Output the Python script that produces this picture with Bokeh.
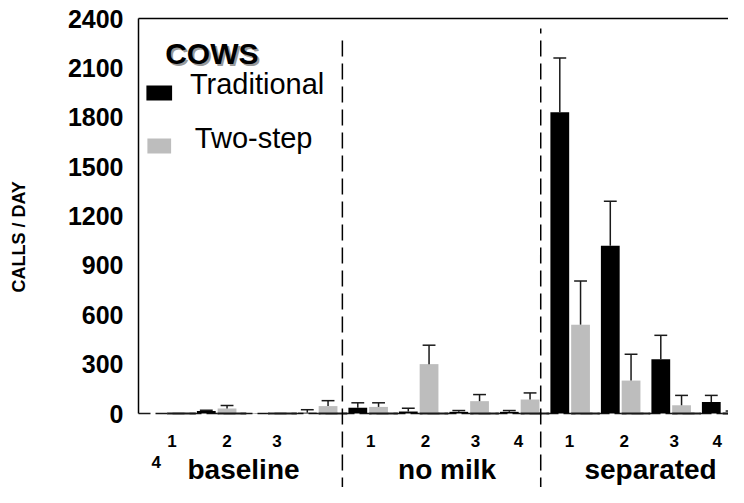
import numpy as np
from bokeh.plotting import figure
from bokeh.layouts import row
from bokeh.models import Range1d, FixedTicker
from bokeh.core.properties import value
from bokeh.embed import file_html
from bokeh.resources import INLINE

# ---------------- data ----------------
groups = ["baseline", "no milk", "separated"]
days = ["1", "2", "3", "4"]
traditional     = [0, 15, 2, 5,    35, 12, 10, 10,   1830, 1020, 330, 70]
traditional_err = [0, 5, 0, 18,    30, 20, 8, 8,     330, 270, 145, 40]
two_step        = [4, 30, 2, 45,   40, 300, 75, 85,  540, 200, 50, 5]
two_step_err    = [0, 18, 0, 33,   25, 115, 40, 40,  265, 160, 60, 10]
y_ticks = [0, 300, 600, 900, 1200, 1500, 1800, 2100, 2400]
series_names = ["Traditional", "Two-step"]
legend_title = "COWS"
y_title = "CALLS / DAY"

# ---------------- layout helpers ----------------
REF_PXC = 51.1        # reference pixels per category
PXC = 50.5            # pixels per category used here
K = 395 / 2400        # pixels per value unit
def px(xp):           # reference x pixel -> category units
    return (xp - 138) / REF_PXC
def py(yp):           # pixel y -> value units
    return (413 - yp) / K

FONT = value("Liberation Sans")
DARK = "#1a1a1a"
GRAY = "#bdbdbd"

TOTAL_W, H = 728, 487
TW = 40               # width of the y-title strip

# ---- y title strip ----
pt = figure(width=TW, height=H, output_backend="svg", toolbar_location=None, title=None,
            x_axis_location=None, y_axis_location=None,
            min_border_left=0, min_border_right=0, min_border_top=0, min_border_bottom=0,
            x_range=Range1d(0, TW), y_range=Range1d(0, H))
pt.outline_line_color = None
pt.xgrid.visible = False
pt.ygrid.visible = False
pt.text(x=[18], y=[H - 230], text=[y_title], angle=np.pi / 2, text_font=FONT,
        text_font_style="bold", text_font_size="18px", text_align="center",
        text_baseline="middle", text_color="black")

# ---- main chart ----
FRAME_L = 128
p = figure(width=TOTAL_W - TW, height=H, output_backend="svg", toolbar_location=None,
           title=None, x_axis_location=None, y_axis_location="left",
           min_border_left=FRAME_L - TW, min_border_right=0, min_border_top=12, min_border_bottom=0,
           x_range=Range1d(-10 / PXC, (TOTAL_W - 138) / PXC),
           y_range=Range1d(py(H), py(12)))
p.outline_line_color = None
p.xgrid.visible = False
p.ygrid.visible = False

ya = p.yaxis[0]
ya.ticker = FixedTicker(ticks=y_ticks)
ya.axis_line_color = None
ya.major_tick_line_color = None
ya.minor_tick_line_color = None
ya.major_tick_out = 0
ya.major_tick_in = 0
ya.major_label_standoff = 5
ya.major_label_text_font = "Liberation Sans"
ya.major_label_text_font_style = "bold"
ya.major_label_text_font_size = "25px"
ya.major_label_text_color = "black"

n = len(traditional)
idx = np.arange(n)
bw = 19 / REF_PXC
black_x = idx + 8 / REF_PXC + bw / 2
gray_x = idx + 29 / REF_PXC + bw / 2
x_end = (TOTAL_W - 138) / PXC

# dashed zero axis
p.segment(x0=[0], y0=[0], x1=[x_end], y1=[0], line_color=DARK, line_width=1.5, line_dash="12 5")

# frame lines: left axis and top border
p.segment(x0=[0, 0], y0=[0, y_ticks[-1]], x1=[0, x_end], y1=[y_ticks[-1], y_ticks[-1]],
          line_color="black", line_width=1.5)

# bars
p.vbar(x=black_x, top=traditional, bottom=0, width=bw, fill_color="black", line_color=None)
p.vbar(x=gray_x, top=two_step, bottom=0, width=bw, fill_color=GRAY, line_color=None)
p.segment(x0=gray_x - bw / 2, y0=[0] * n, x1=gray_x + bw / 2 + 10 / REF_PXC, y1=[0] * n,
          line_color=DARK, line_width=2)

# error bars (upward only)
cap = 13 / REF_PXC
for xs, vals, errs in [(black_x, traditional, traditional_err), (gray_x, two_step, two_step_err)]:
    xe = [x for x, e in zip(xs, errs) if e > 0]
    v0 = [v for v, e in zip(vals, errs) if e > 0]
    v1 = [v + e for v, e in zip(vals, errs) if e > 0]
    p.segment(x0=xe, y0=v0, x1=xe, y1=v1, line_color=DARK, line_width=1.5)
    p.segment(x0=[x - cap / 2 for x in xe], y0=v1, x1=[x + cap / 2 for x in xe], y1=v1,
              line_color=DARK, line_width=1.5)

# group dividers
p.segment(x0=[px(344.3)], y0=[py(40)], x1=[px(344.3)], y1=[py(H + 10)],
          line_color="black", line_width=1.5, line_dash="16 7")
p.segment(x0=[px(545)], y0=[py(28)], x1=[px(545)], y1=[py(H + 10)],
          line_color="black", line_width=1.5, line_dash="16 7", line_dash_offset=11)

# day labels
day_off = [0.665, 1.75, 2.74, 3.59]
lx, ly, lt = [], [], []
for g in range(len(groups)):
    for d, dname in enumerate(days):
        if g == 0 and d == 3:
            lx.append(px(156)); ly.append(py(461))
        else:
            lx.append(4 * g + day_off[d] - 0.065 * g); ly.append(py(440))
        lt.append(dname)
p.text(x=lx, y=ly, text=lt, text_font=FONT, text_font_style="bold", text_font_size="17px",
       text_align="center", text_baseline="middle", text_color="black")

# group labels
p.text(x=[2.08 + 4.03 * g for g in range(len(groups))], y=[py(469)] * len(groups), text=groups,
       text_font=FONT, text_font_style="bold", text_font_size="28px",
       text_align="center", text_baseline="middle", text_color="black")

# legend
p.text(x=[px(167)], y=[py(55)], text=[legend_title], text_font=FONT, text_font_style="bold",
       text_font_size="30px", text_baseline="middle", text_color="#9a9a9a")
p.text(x=[px(165)], y=[py(53)], text=[legend_title], text_font=FONT, text_font_style="bold",
       text_font_size="30px", text_baseline="middle", text_color="black")
p.quad(left=[px(146), px(147)], right=[px(172), px(171)], top=[py(85), py(138)],
       bottom=[py(100), py(153)], fill_color=["black", GRAY], line_color=None)
p.text(x=[px(190), px(195)], y=[py(83), py(137)], text=series_names, text_font=FONT,
       text_font_size="29px", text_baseline="middle", text_color="black")

layout = row(pt, p, spacing=0)
open("out.html", "w").write(file_html(layout, INLINE))
